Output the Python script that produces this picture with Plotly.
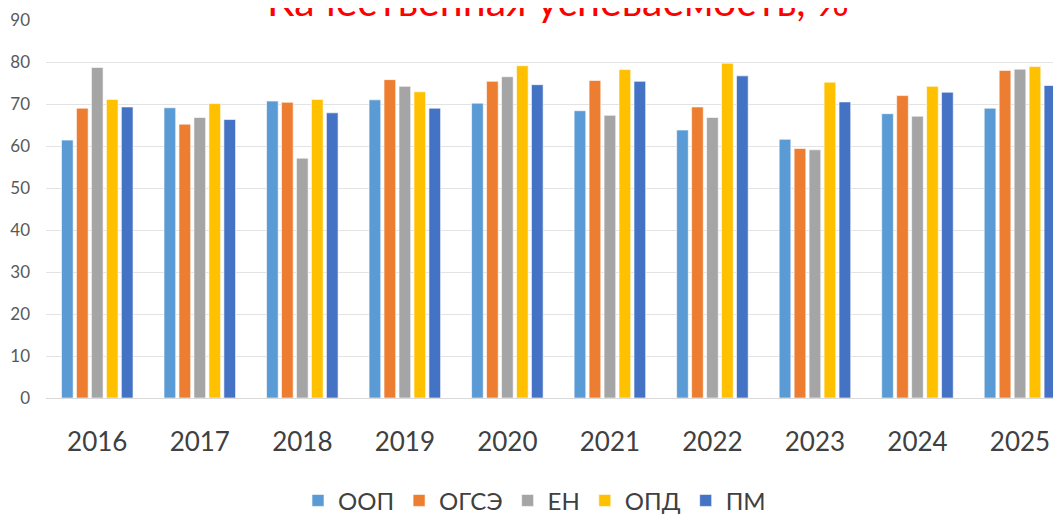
import plotly.graph_objects as go

# ==== DATA ====
years = ["2016", "2017", "2018", "2019", "2020", "2021", "2022", "2023", "2024", "2025"]

oop = [61.4, 69.1, 70.7, 71.0, 70.2, 68.4, 63.8, 61.6, 67.7, 69.0]
ogse = [69.0, 65.2, 70.4, 75.8, 75.4, 75.6, 69.3, 59.4, 72.0, 78.0]
en = [78.7, 66.8, 57.1, 74.2, 76.5, 67.3, 66.8, 59.1, 67.1, 78.3]
opd = [71.1, 70.1, 71.1, 72.9, 79.1, 78.2, 79.7, 75.2, 74.2, 78.9]
pm = [69.3, 66.3, 67.9, 69.0, 74.6, 75.4, 76.7, 70.5, 72.8, 74.4]

series = [
    ("ООП", oop, "#5B9BD5"),
    ("ОГСЭ", ogse, "#ED7D31"),
    ("ЕН", en, "#A5A5A5"),
    ("ОПД", opd, "#FFC000"),
    ("ПМ", pm, "#4472C4"),
]

title_text = "Качественная успеваемость, %"
# ==============

fig = go.Figure()

for name, vals, color in series:
    fig.add_trace(go.Bar(
        x=years,
        y=vals,
        name=name,
        marker=dict(color=color, line=dict(color="rgba(255,255,255,0.6)", width=1)),
    ))

font_family = "Lato, 'Open Sans', sans-serif"

# page body has an 8px margin, so the figure is 8px smaller than the window
fig.update_layout(
    width=1053,
    height=507,
    barmode="group",
    bargap=0.27,
    bargroupgap=0.22,
    plot_bgcolor="white",
    paper_bgcolor="white",
    margin=dict(l=38, r=0, t=12, b=117),
    font=dict(family=font_family, color="#595959"),
    xaxis=dict(
        range=[-0.5, 9.4],
        automargin=False,
        tickfont=dict(size=26, color="#404040"),
        ticklabelstandoff=21,
        showline=True,
        linecolor="#D9D9D9",
        linewidth=1,
        showgrid=False,
    ),
    yaxis=dict(
        range=[0, 90],
        dtick=10,
        automargin=False,
        tickfont=dict(size=17, color="#595959"),
        ticklabelstandoff=15,
        showgrid=True,
        gridcolor="#E3E3E3",
        gridwidth=1,
        zeroline=False,
        showline=False,
    ),
    legend=dict(
        orientation="h",
        xref="container",
        yref="container",
        x=0.5,
        xanchor="center",
        y=0.028,
        yanchor="middle",
        font=dict(size=24, color="#404040"),
        itemwidth=30,
        traceorder="normal",
    ),
    showlegend=True,
    # title sits at the very top edge, partly cut off as in the original
    annotations=[dict(
        text=title_text,
        xref="paper",
        yref="paper",
        x=0.504,
        y=0.982,
        xanchor="center",
        yanchor="bottom",
        showarrow=False,
        font=dict(size=41, color="#FF0000", family=font_family),
    )],
)

fig.write_html("out.html")
